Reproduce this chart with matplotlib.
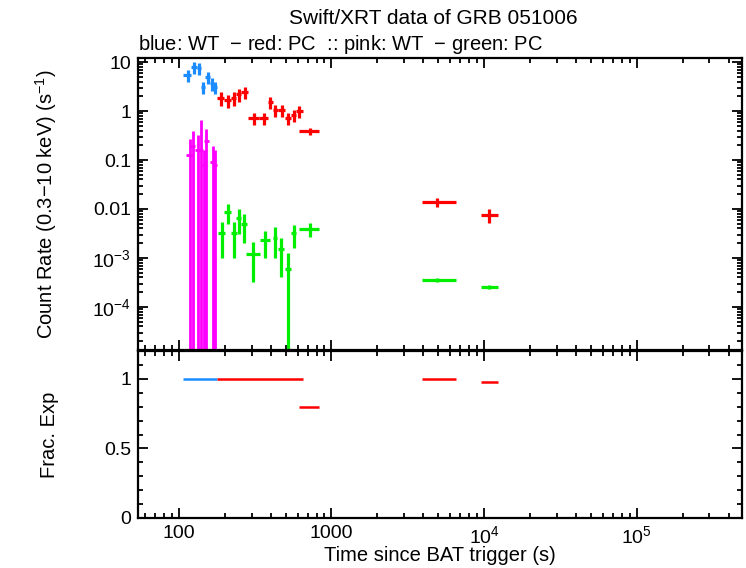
import numpy as np
import matplotlib.pyplot as plt
from matplotlib.ticker import MultipleLocator, LogLocator, NullFormatter

plt.rcParams['font.family'] = ['Liberation Sans', 'DejaVu Sans']
plt.rcParams['mathtext.fontset'] = 'custom'
plt.rcParams['mathtext.rm'] = 'Liberation Sans'
plt.rcParams['mathtext.it'] = 'Liberation Sans:italic'
plt.rcParams['font.size'] = 14

# WT (blue) count rates
wt_t = [114, 126, 135, 144, 154.5, 164, 172.5]
wt_terr = [7, 5, 4, 5, 5.5, 4, 4.5]
wt_rate = [5.4, 7.9, 7.5, 3.1, 4.9, 3.7, 3.1]
wt_err = [1.5, 2.2, 2.1, 0.9, 1.4, 1.1, 0.9]
wt_frac = [1, 1, 1, 1, 1, 1, 1]

# PC (red) count rates
pc_t = [188, 208.5, 228.5, 247, 270, 309, 360, 397, 428, 471, 518, 566, 612, 720, 4900, 10700]
pc_terr_lo = [11, 10.5, 9.5, 9, 13, 25, 26, 15, 16, 23, 23, 24, 22, 103, 1000, 1200]
pc_terr_hi = [10, 10.5, 9.5, 10, 14, 25, 22, 15, 20, 24, 24, 24, 38, 103, 1600, 1600]
pc_rate = [1.84, 1.67, 1.84, 2.2, 2.44, 0.72, 0.72, 1.53, 1.05, 1.05, 0.72, 0.83, 1.0, 0.39,
           0.0139, 0.00755]
pc_err = [0.55, 0.5, 0.55, 0.65, 0.7, 0.2, 0.2, 0.45, 0.3, 0.3, 0.2, 0.24, 0.28, 0.07,
          0.003, 0.0024]
pc_frac = [1, 1, 1, 1, 1, 1, 1, 1, 1, 1, 1, 1, 1, 0.8, 1.0, 0.98]

# pink: WT second band
pk_t = [118, 123.5, 133, 139, 146, 151.5, 167, 173]
pk_terr = [6, 5, 5, 5, 5, 5, 6, 6]
pk_rate = [0.126, 0.19, 0.16, 0.16, 0.079, 0.24, 0.091, 0.079]
pk_err_lo = [0.126, 0.19, 0.16, 0.16, 0.079, 0.24, 0.091, 0.079]
pk_err_hi = [0.144, 0.2, 0.16, 0.49, 0.08, 0.19, 0.1, 0.08]

# green: PC second band
gr_t = [191, 209, 229, 247, 267, 305, 366, 425, 466, 518, 567, 720, 4900, 10700]
gr_terr_lo = [11, 10, 10, 9, 12, 30, 27, 12, 20, 22, 22, 103, 1000, 1200]
gr_terr_hi = [11, 10, 10, 9, 12, 34, 28, 12, 20, 22, 22, 103, 1600, 1600]
gr_rate = [3.2e-3, 8.7e-3, 3.2e-3, 6.5e-3, 4.9e-3, 1.2e-3, 2.3e-3, 2.6e-3, 1.5e-3, 6.0e-4,
           3.2e-3, 3.9e-3, 3.6e-4, 2.6e-4]
gr_err = [2.2e-3, 3.8e-3, 2.2e-3, 3.4e-3, 2.9e-3, 0.88e-3, 1.3e-3, 1.6e-3, 1.1e-3, 0.66e-3,
          1.6e-3, 1.25e-3, 0.3e-4, 0.25e-4]

c_blue = '#1a8cff'
c_red = '#ff0000'
c_pink = '#ff00ff'
c_green = '#00ee00'


def frac_line(ax, t, lo, hi, f, color):
    # join neighbouring bins into one line so the joints don't show
    xs, ys = [], []
    prev_end, prev_f = None, None
    for ti, l, h, fi in zip(t, lo, hi, f):
        a, b = ti - l, ti + h
        if prev_end is not None and (abs(a - prev_end) / prev_end > 0.01 or fi != prev_f):
            xs.append(np.nan)
            ys.append(np.nan)
        xs += [a, b]
        ys += [fi, fi]
        prev_end, prev_f = b, fi
    ax.plot(xs, ys, color=color, lw=1.8, solid_capstyle='butt')


W, H = 746, 568
fig = plt.figure(figsize=(W / 100, H / 100), dpi=100)
left, right = 138 / W, 742 / W
ax1 = fig.add_axes([left, 1 - 350 / H, right - left, (350 - 58) / H])
ax2 = fig.add_axes([left, 1 - 518 / H, right - left, (518 - 351) / H])

ekw = dict(fmt='none', capsize=0, elinewidth=2.3)
ax1.errorbar(pk_t, pk_rate, xerr=pk_terr, yerr=[pk_err_lo, pk_err_hi], ecolor=c_pink,
             fmt='none', capsize=0, elinewidth=2.0)
ax1.errorbar(gr_t, gr_rate, xerr=[gr_terr_lo, gr_terr_hi], yerr=gr_err, ecolor=c_green, **ekw)
ax1.errorbar(wt_t, wt_rate, xerr=wt_terr, yerr=wt_err, ecolor=c_blue, **ekw)
ax1.errorbar(pc_t, pc_rate, xerr=[pc_terr_lo, pc_terr_hi], yerr=pc_err, ecolor=c_red, **ekw)

frac_line(ax2, wt_t, wt_terr, wt_terr, wt_frac, c_blue)
frac_line(ax2, pc_t, pc_terr_lo, pc_terr_hi, pc_frac, c_red)

for ax in (ax1, ax2):
    ax.set_xscale('log')
    ax.set_xlim(54, 4.9e5)
    ax.tick_params(which='both', direction='in', top=True, right=True, width=1.3)
    ax.tick_params(which='major', length=7, pad=5)
    ax.tick_params(which='minor', length=3.5)
    for s in ax.spines.values():
        s.set_linewidth(1.6)

ax1.set_yscale('log')
ax1.set_ylim(1.32e-5, 12.1)
ax1.set_yticks([10, 1, 0.1, 0.01, 1e-3, 1e-4])
ax1.set_yticklabels(['10', '1', '0.1', '0.01', r'$10^{-3}$', r'$10^{-4}$'])
ax1.yaxis.set_minor_locator(LogLocator(base=10, subs=np.arange(2, 10)))
ax1.yaxis.set_minor_formatter(NullFormatter())
ax1.set_xticks([100, 1000, 1e4, 1e5])
ax1.set_xticklabels([])
ax1.xaxis.set_minor_formatter(NullFormatter())
ax1.set_ylabel(r'Count Rate (0.3$-$10 keV) (s$^{-1}$)', fontsize=14.5)

ax2.set_ylim(0, 1.2)
ax2.set_yticks([0, 0.5, 1])
ax2.set_yticklabels(['0', '0.5', '1'])
ax2.yaxis.set_minor_locator(MultipleLocator(0.1))
ax2.set_xticks([100, 1000, 1e4, 1e5])
ax2.set_xticklabels(['100', '1000', r'$10^4$', r'$10^5$'])
ax2.xaxis.set_minor_formatter(NullFormatter())
ax2.set_ylabel('Frac. Exp', fontsize=14.5)
ax2.set_xlabel('Time since BAT trigger (s)', fontsize=14.5)
ax1.yaxis.set_label_coords(-0.13, 0.5)
ax2.yaxis.set_label_coords(-0.13, 0.5)
ax2.xaxis.set_label_coords(0.5, -0.165)

fig.text(433 / W, 1 - 19 / H, 'Swift/XRT data of GRB 051006', ha='center', va='center',
         fontsize=15)
fig.text(left, 1 - 44 / H, 'blue: WT  $-$ red: PC  :: pink: WT  $-$ green: PC',
         ha='left', va='center', fontsize=14.5)

fig.savefig('out.png', dpi=100)
